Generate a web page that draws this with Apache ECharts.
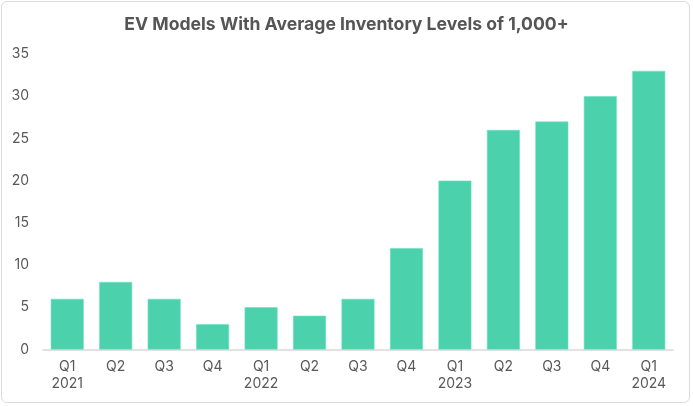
<!DOCTYPE html>
<html><head><meta charset="utf-8">
<script src="https://cdn.jsdelivr.net/npm/echarts@6/dist/echarts.min.js"></script>
<style>html,body{margin:0;padding:0;background:#fff}#wrap{position:absolute;left:1px;top:1px;width:689px;height:402px;border:1px solid #dcdcdc;border-radius:6px;box-sizing:border-box}#c{position:absolute;left:0;top:0;width:693px;height:406px}</style>
</head><body><div id="wrap"></div><div id="c"></div>
<script>
const categories = ['Q1\n2021','Q2','Q3','Q4','Q1\n2022','Q2','Q3','Q4','Q1\n2023','Q2','Q3','Q4','Q1\n2024'];
const values = [6,8,6,3,5,4,6,12,20,26,27,30,33];
const title = 'EV Models With Average Inventory Levels of 1,000+';
const chart = echarts.init(document.getElementById('c'));
chart.setOption({
  animation:false,
  title:{text:title,left:'center',top:11,textStyle:{fontFamily:'Inter',fontWeight:'bold',fontSize:17.6,color:'#555555'}},
  grid:{left:43,right:20,top:54,bottom:56.5},
  xAxis:{type:'category',data:categories,
    axisLine:{lineStyle:{color:'#d9d9d9',width:1.5}},axisTick:{show:false},
    axisLabel:{color:'#595959',fontSize:14,fontFamily:'Inter',lineHeight:17,margin:9}},
  yAxis:{type:'value',min:0,max:35,interval:5,splitLine:{show:false},
    axisLabel:{color:'#595959',fontSize:14,fontFamily:'Inter',margin:14}},
  series:[{type:'bar',data:values,barCategoryGap:'32%',itemStyle:{color:'#4bd1ac',borderColor:'#6fe0c2',borderWidth:0.6}}]
});
</script></body></html>
